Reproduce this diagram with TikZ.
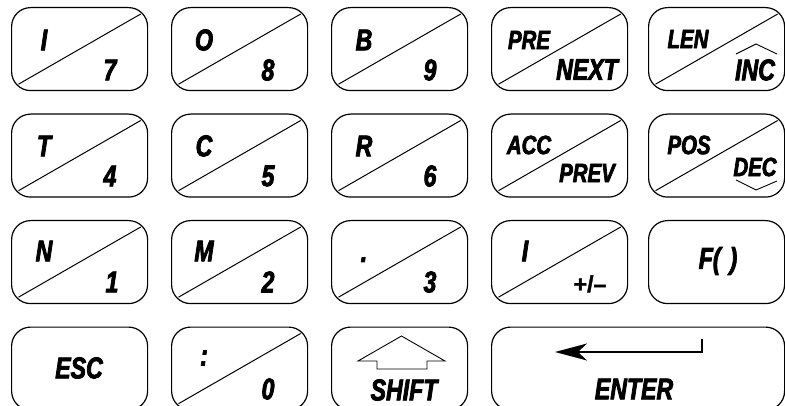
\documentclass[tikz,border=0pt]{standalone}
\usepackage{fontspec}
\usetikzlibrary{arrows.meta}
\newfontfamily\kf[FakeStretch=0.77,FakeBold=2.6]{Liberation Sans}
\newfontfamily\kfu[FakeBold=1.6]{Liberation Sans}
\begin{document}
\begin{tikzpicture}[x=1pt,y=-1pt,
  keybox/.style={draw, line width=1.2pt, rounded corners=19pt, minimum width=136pt, minimum height=83pt, inner sep=0pt, anchor=north west},
  widebox/.style={keybox, minimum width=293pt},
  diag/.style={line width=1pt},
  big/.style={font=\kf\bfseries\itshape\fontsize{30}{30}\selectfont, inner sep=0pt},
  mid/.style={font=\kf\bfseries\itshape\fontsize{26.5}{26.5}\selectfont, inner sep=0pt},
  pm/.style={font=\kfu\bfseries\fontsize{23}{23}\selectfont, inner sep=0pt},
  thin/.style={line width=0.9pt},
]
\useasboundingbox (0,0) rectangle (785,406);

% keys
\node[keybox] (k11) at (11,7) {};
\node[keybox] (k12) at (171,7) {};
\node[keybox] (k13) at (331,7) {};
\node[keybox] (k14) at (491,7) {};
\node[keybox] (k15) at (648,7) {};
\node[keybox] (k21) at (11,113.5) {};
\node[keybox] (k22) at (171,113.5) {};
\node[keybox] (k23) at (331,113.5) {};
\node[keybox] (k24) at (491,113.5) {};
\node[keybox] (k25) at (648,113.5) {};
\node[keybox] (k31) at (11,220) {};
\node[keybox] (k32) at (171,220) {};
\node[keybox] (k33) at (331,220) {};
\node[keybox] (k34) at (491,220) {};
\node[keybox] (k35) at (648,220) {};
\node[keybox] (k41) at (11,326.5) {};
\node[keybox] (k42) at (171,326.5) {};
\node[keybox] (k43) at (331,326.5) {};
\node[widebox] (k44) at (491,326.5) {};

% diagonals
\foreach \k in {k11,k12,k13,k14,k15,k21,k22,k23,k24,k25,k31,k32,k33,k34,k42}
  \draw[diag] ([xshift=7.5pt,yshift=7pt]\k.south west) -- ([xshift=-7.5pt,yshift=-7pt]\k.north east);

% row 1
\node[big] (t11) at (44,40) {I};
\node[big] (b11) at (110,70) {7};
\node[big] (t12) at (204,40) {O};
\node[big] (b12) at (268,70) {8};
\node[big] (t13) at (364,40) {B};
\node[big] (b13) at (430,70) {9};
\node[mid] (t14) at (529,40) {PRE};
\node[big] (b14) at (587,69.5) {NEXT};
\node[mid] (t15) at (688,39) {LEN};
\node[big] (b15) at (755,70) {INC};
\draw[thin] (736,54) -- (756,44) -- (777,54);

% row 2
\node[big] (t21) at (44,146) {T};
\node[big] (b21) at (110,176) {4};
\node[big] (t22) at (204,146) {C};
\node[big] (b22) at (268,176) {5};
\node[big] (t23) at (364,146) {R};
\node[big] (b23) at (430,176) {6};
\node[mid] (t24) at (529,145) {ACC};
\node[mid] (b24) at (587,173) {PREV};
\node[mid] (t25) at (689,145) {POS};
\node[mid] (b25) at (755,167) {DEC};
\draw[thin] (736,180) -- (756,190) -- (777,181);

% row 3
\node[big] (t31) at (44,251) {N};
\node[big] (b31) at (112,282) {1};
\node[big] (t32) at (204,251) {M};
\node[big] (b32) at (268,282) {2};
\node[big, anchor=base] (t33) at (364,262) {.};
\node[big] (b33) at (430,282) {3};
\node[big] (t34) at (525,251) {I};
\node[pm] (b34) at (590,284) {+/–};
\node[big] (k35l) at (718,261) {F(\hspace{9pt})};

% row 4
\node[big] (esc) at (79,368) {ESC};
\node[big] (t42) at (204,358) {:};
\node[big] (b42) at (268,389) {0};
\node[big] (shift) at (404,390) {SHIFT};
\draw[thin] (401.5,336) -- (445,361) -- (427,361) -- (427,369) -- (377,369) -- (377,361) -- (358,361) -- cycle;
\node[big] (enter) at (634,389) {ENTER};
\coordinate (es) at (702,339);
\coordinate (ec) at (702,352);
\coordinate (ee) at (555,352);
\draw[line width=1.6pt, -{Stealth[length=32pt,width=17pt,inset=9pt]}] (es) -- (ec) -- (ee);
\end{tikzpicture}
\end{document}
